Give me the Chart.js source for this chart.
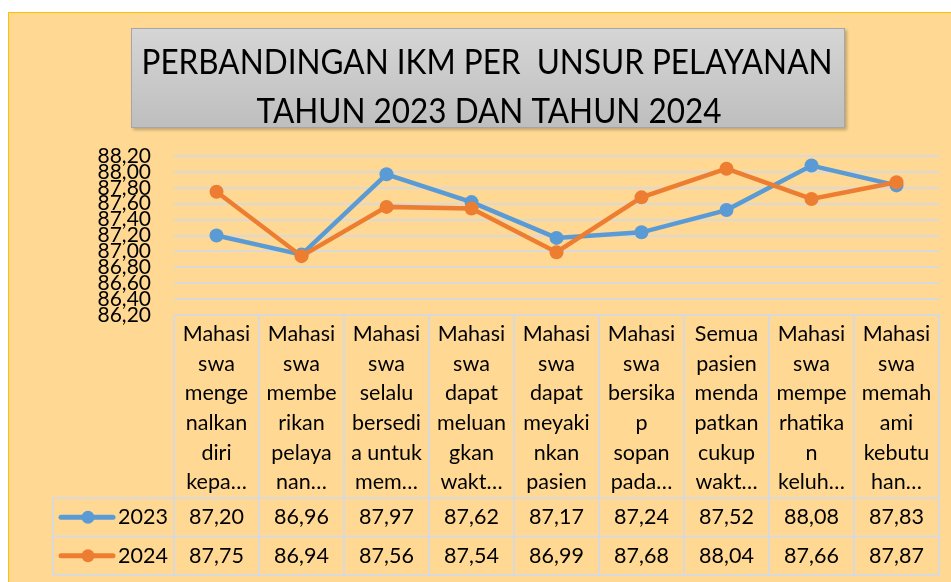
<!DOCTYPE html>
<html>
<head>
<meta charset="utf-8">
<script src="https://cdn.jsdelivr.net/npm/chart.js@4.4.1/dist/chart.umd.min.js"></script>
<style>
  html, body { margin: 0; padding: 0; background: #fff; }
  #ikmChart { display: block; }
</style>
</head>
<body>
<canvas id="ikmChart" width="951" height="582"></canvas>
<script>
const titleLines = ["PERBANDINGAN IKM PER  UNSUR PELAYANAN", "TAHUN 2023 DAN TAHUN 2024"];

// category labels, already wrapped the way the table shows them
const categories = [
  ["Mahasi", "swa", "menge", "nalkan", "diri", "kepa…"],
  ["Mahasi", "swa", "membe", "rikan", "pelaya", "nan…"],
  ["Mahasi", "swa", "selalu", "bersedi", "a untuk", "mem…"],
  ["Mahasi", "swa", "dapat", "meluan", "gkan", "wakt…"],
  ["Mahasi", "swa", "dapat", "meyaki", "nkan", "pasien"],
  ["Mahasi", "swa", "bersika", "p", "sopan", "pada…"],
  ["Semua", "pasien", "menda", "patkan", "cukup", "wakt…"],
  ["Mahasi", "swa", "mempe", "rhatika", "n", "keluh…"],
  ["Mahasi", "swa", "memah", "ami", "kebutu", "han…"]
];

const seriesNames = ["2023", "2024"];
const values2023 = [87.20, 86.96, 87.97, 87.62, 87.17, 87.24, 87.52, 88.08, 87.83];
const values2024 = [87.75, 86.94, 87.56, 87.54, 86.99, 87.68, 88.04, 87.66, 87.87];

const yMin = 86.2;
const yMax = 88.2;
const yStep = 0.2;

const blue = "#5B9BD5";
const orange = "#ED7D31";
const gridColor = "#D9D9D9";
const font = "Lato, 'Open Sans', sans-serif";

const fmt = (v) => v.toFixed(2).replace(".", ",");

// yellow frame + grey title box
const framePlugin = {
  id: "frame",
  beforeDraw(chart) {
    const ctx = chart.ctx;
    ctx.save();
    ctx.fillStyle = "#FFD993";
    ctx.fillRect(8, 12, 951 - 8, 582 - 12);
    ctx.strokeStyle = "#FFC000";
    ctx.lineWidth = 1;
    ctx.beginPath();
    ctx.moveTo(8.5, 582);
    ctx.lineTo(8.5, 12.5);
    ctx.lineTo(951, 12.5);
    ctx.stroke();

    const bx = 131, by = 28, bw = 714, bh = 100;
    ctx.shadowColor = "rgba(0,0,0,0.25)";
    ctx.shadowOffsetX = 2;
    ctx.shadowOffsetY = 2;
    ctx.shadowBlur = 3;
    const g = ctx.createLinearGradient(0, by, 0, by + bh);
    g.addColorStop(0, "#D6D6D6");
    g.addColorStop(1, "#BEBEBE");
    ctx.fillStyle = g;
    ctx.fillRect(bx, by, bw, bh);
    ctx.shadowColor = "transparent";
    ctx.strokeStyle = "#A6A6A6";
    ctx.strokeRect(bx + 0.5, by + 0.5, bw - 1, bh - 1);

    ctx.fillStyle = "#000";
    ctx.textAlign = "center";
    ctx.textBaseline = "alphabetic";
    ctx.font = "34px " + font;
    const targets = [[487, 74, 691], [489, 122.5, 465]];
    titleLines.forEach((t, i) => {
      const [cx, base, w] = targets[i];
      const sx = w / ctx.measureText(t).width;
      ctx.save();
      ctx.translate(cx, base);
      ctx.scale(sx, 1);
      ctx.fillText(t, 0, 0);
      ctx.restore();
    });
    ctx.restore();
  }
};

// data table under the plot
const tablePlugin = {
  id: "dataTable",
  afterDraw(chart) {
    const ctx = chart.ctx;
    const x = chart.scales.x;
    const area = chart.chartArea;
    const colW = (area.right - area.left) / categories.length;
    const top = area.bottom;
    const headBottom = 498;
    const rowH = 38.5;
    const legendLeft = 53;
    const bottom = headBottom + rowH * 2;

    ctx.save();
    ctx.strokeStyle = gridColor;
    ctx.lineWidth = 2;
    ctx.beginPath();
    ctx.moveTo(area.left, top); ctx.lineTo(area.right, top);
    ctx.moveTo(legendLeft, headBottom); ctx.lineTo(area.right, headBottom);
    ctx.moveTo(legendLeft, headBottom + rowH); ctx.lineTo(area.right, headBottom + rowH);
    ctx.moveTo(legendLeft, bottom); ctx.lineTo(area.right, bottom);
    ctx.moveTo(legendLeft, headBottom); ctx.lineTo(legendLeft, bottom);
    for (let i = 0; i <= categories.length; i++) {
      const lx = area.left + i * colW;
      ctx.moveTo(lx, top); ctx.lineTo(lx, bottom);
    }
    ctx.stroke();

    ctx.fillStyle = "#000";
    ctx.textAlign = "center";
    ctx.textBaseline = "middle";
    ctx.font = "21.5px " + font;
    categories.forEach((lines, i) => {
      const cx = x.getPixelForValue(i);
      lines.forEach((ln, j) => {
        ctx.fillText(ln, cx, 334 + j * 29.7);
      });
    });

    chart.data.datasets.forEach((ds, r) => {
      const cy = headBottom + rowH * r + rowH / 2;
      ds.data.forEach((v, i) => {
        ctx.fillStyle = "#000";
        ctx.textAlign = "center";
        ctx.fillText(fmt(v), x.getPixelForValue(i), cy);
      });
      // legend key
      ctx.strokeStyle = ds.borderColor;
      ctx.lineWidth = 5;
      ctx.lineCap = "round";
      ctx.beginPath();
      ctx.moveTo(61, cy); ctx.lineTo(113, cy);
      ctx.stroke();
      ctx.fillStyle = ds.borderColor;
      ctx.beginPath();
      ctx.arc(88, cy, 6.5, 0, Math.PI * 2);
      ctx.fill();
      ctx.fillStyle = "#000";
      ctx.textAlign = "left";
      ctx.fillText(ds.label, 118, cy);
    });
    ctx.restore();
  }
};

new Chart(document.getElementById("ikmChart"), {
  type: "line",
  data: {
    labels: categories,
    datasets: [
      {
        label: seriesNames[0],
        data: values2023,
        borderColor: blue,
        backgroundColor: blue,
        borderWidth: 4.5,
        pointRadius: 7,
        pointBorderWidth: 0,
        pointBackgroundColor: blue,
        tension: 0,
        order: 1
      },
      {
        label: seriesNames[1],
        data: values2024,
        borderColor: orange,
        backgroundColor: orange,
        borderWidth: 4.5,
        pointRadius: 7,
        pointBorderWidth: 0,
        pointBackgroundColor: orange,
        tension: 0,
        order: 0
      }
    ]
  },
  plugins: [framePlugin, tablePlugin],
  options: {
    responsive: false,
    animation: false,
    devicePixelRatio: 1,
    layout: { padding: { left: 0, right: 12, top: 156, bottom: 267 } },
    plugins: {
      legend: { display: false },
      title: { display: false },
      tooltip: { enabled: false }
    },
    scales: {
      x: {
        type: "category",
        offset: true,
        display: false
      },
      y: {
        min: yMin,
        max: yMax,
        afterFit(scale) { scale.width = 174; },
        border: { display: false },
        grid: { color: gridColor, lineWidth: 2, drawTicks: false },
        ticks: {
          stepSize: yStep,
          autoSkip: false,
          padding: 23,
          color: "#000",
          font: { family: font, size: 21 },
          callback: (v) => fmt(v)
        }
      }
    }
  }
});
</script>
</body>
</html>
